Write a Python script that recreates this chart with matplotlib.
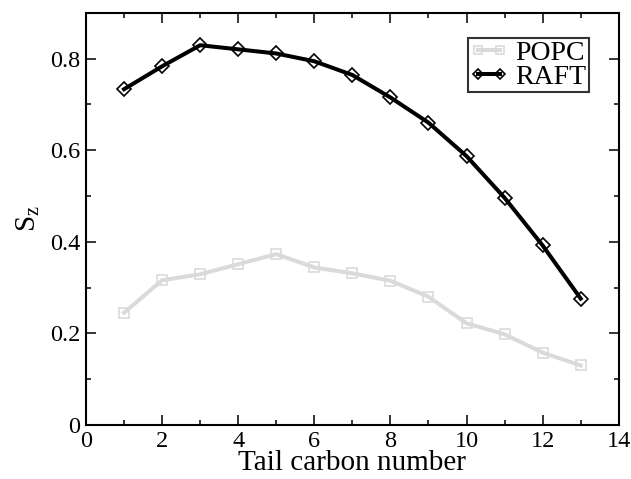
import matplotlib
matplotlib.use("Agg")
from matplotlib import pyplot as plt
from matplotlib.ticker import MultipleLocator, FuncFormatter

carbon = [1, 2, 3, 4, 5, 6, 7, 8, 9, 10, 11, 12, 13]
popc = [0.245, 0.316, 0.329, 0.351, 0.373, 0.344, 0.331, 0.315, 0.280, 0.222, 0.198, 0.158, 0.130]
raft = [0.733, 0.783, 0.829, 0.820, 0.811, 0.794, 0.764, 0.715, 0.660, 0.587, 0.496, 0.392, 0.276]

plt.rcParams['font.family'] = ['Liberation Serif', 'DejaVu Serif']
plt.rcParams['mathtext.fontset'] = 'custom'
plt.rcParams['mathtext.rm'] = 'Liberation Serif'

fig = plt.figure(figsize=(6.31, 4.79), dpi=100)
ax = fig.add_axes([86 / 631, 1 - 425 / 479, (618.7 - 86) / 631, (425 - 12.7) / 479])

ax.plot(carbon, popc, color='#dadada', lw=2.9, marker='s', ms=7, mfc='none',
        mec='#dadada', mew=1.2, label='POPC')
ax.plot(carbon, raft, color='black', lw=2.9, marker='D', ms=7, mfc='none',
        mec='black', mew=1.2, label='RAFT')

ax.set_xlim(0, 14)
ax.set_ylim(0, 0.9)
ax.xaxis.set_major_locator(MultipleLocator(2))
ax.xaxis.set_minor_locator(MultipleLocator(1))
ax.yaxis.set_major_locator(MultipleLocator(0.2))
ax.yaxis.set_minor_locator(MultipleLocator(0.1))
ax.yaxis.set_major_formatter(FuncFormatter(lambda v, p: '0' if abs(v) < 1e-9 else f'{v:.1f}'))
ax.tick_params(which='both', direction='in', top=True, right=True, width=1.1, labelsize=17.5)
ax.tick_params(which='major', length=7, pad=4)
ax.tick_params(which='minor', length=3.6)
for s in ax.spines.values():
    s.set_linewidth(1.5)

ax.set_xlabel('Tail carbon number', fontsize=21, labelpad=-1)
ax.set_ylabel('S$_{\\mathrm{z}}$', fontsize=21, labelpad=6)

leg = ax.legend(loc='upper right', bbox_to_anchor=(0.944, 0.939), fontsize=20,
                frameon=True, fancybox=False, edgecolor='black',
                handlelength=1.37, handletextpad=0.27, borderpad=0.08,
                labelspacing=-0.05, borderaxespad=0.0, numpoints=2, markerscale=0.8)
leg.get_frame().set_linewidth(1.5)

fig.savefig('out.png', dpi=100)
